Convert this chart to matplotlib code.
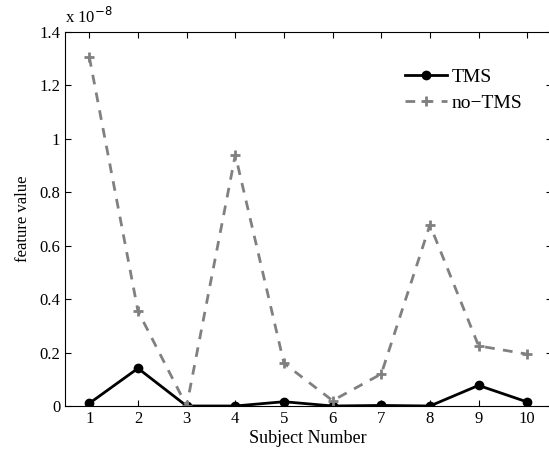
import numpy as np
import matplotlib.pyplot as plt

plt.rcParams['font.family'] = ['Liberation Serif', 'DejaVu Serif']

subjects = [1, 2, 3, 4, 5, 6, 7, 8, 9, 10]
tms = [0.010, 0.141, 0.0, 0.0, 0.016, 0.0, 0.002, 0.0, 0.077, 0.015]
no_tms = [1.306, 0.355, 0.0, 0.940, 0.160, 0.020, 0.120, 0.678, 0.225, 0.194]

fig = plt.figure(figsize=(5.49, 4.49), dpi=100)
ax = fig.add_axes([0.1184, 0.0958, 0.8863, 0.8330])

# values are in units of 1e-8 (shown by the multiplier label)
ax.plot(subjects, tms, color='black', lw=2,
        marker='o', ms=6, label='TMS')
ax.plot(subjects, no_tms, color='#808080', lw=2,
        ls=(0, (3.5, 3)), marker='+', ms=7, mew=2, label='no\u2212TMS')

ax.set_xlim(0.5, 10.5)
ax.set_ylim(0, 1.4)
ax.set_xticks(subjects)
ax.set_yticks(np.arange(0, 1.41, 0.2))
ax.set_yticklabels(['0', '0.2', '0.4', '0.6', '0.8', '1', '1.2', '1.4'])
ax.tick_params(direction='in', top=True, right=True, labelsize=12, length=4)
ax.spines['right'].set_visible(False)
ax.set_xlabel('Subject Number', fontsize=13, labelpad=2)
ax.set_ylabel('feature value', fontsize=12, labelpad=6)
ax.text(0.0, 1.012, r'x 10$^{-8}$', transform=ax.transAxes, fontsize=12,
        ha='left', va='bottom')

ax.legend(loc='upper left', bbox_to_anchor=(0.682, 0.924), frameon=False,
          fontsize=14, handlelength=2.2, handletextpad=0.2, labelspacing=0.45,
          borderaxespad=0)

fig.savefig('out.png', dpi=100)
